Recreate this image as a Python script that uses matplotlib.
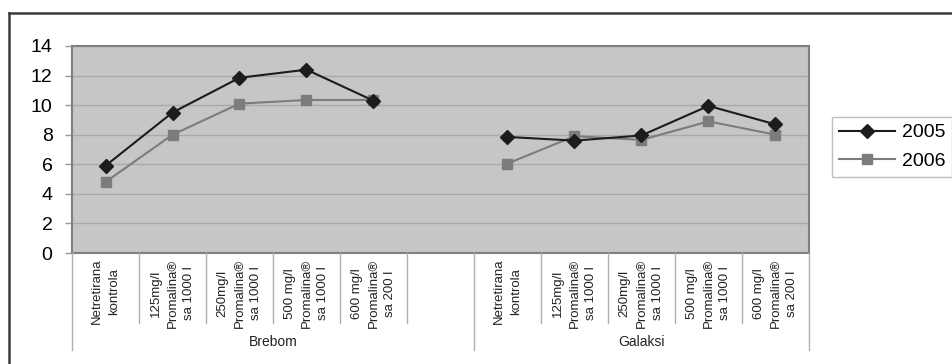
import numpy as np
import matplotlib
matplotlib.use("Agg")
import matplotlib.pyplot as plt
import matplotlib.transforms as mtransforms
from matplotlib.lines import Line2D

plt.rcParams['font.family'] = ['Liberation Sans', 'DejaVu Sans']

# data
groups = ['Brebom', 'Galaksi']
categories = ['Netretirana\nkontrola',
              '125mg/l\nPromalina®\nsa 1000 l',
              '250mg/l\nPromalina®\nsa 1000 l',
              '500 mg/l\nPromalina®\nsa 1000 l',
              '600 mg/l\nPromalina®\nsa 200 l']
brebom_2005 = [5.9, 9.5, 11.85, 12.4, 10.3]
brebom_2006 = [4.8, 8.0, 10.1, 10.35, 10.35]
galaksi_2005 = [7.85, 7.6, 7.95, 9.95, 8.7]
galaksi_2006 = [6.05, 7.9, 7.65, 8.9, 8.0]

W, H = 953, 364
fig = plt.figure(figsize=(W/100, H/100), dpi=100)
ax = fig.add_axes([72/W, 1-253/H, (809-72)/W, (253-46)/H])
ax.set_facecolor('#c6c6c8')

x_b = np.arange(5)
x_g = np.arange(5) + 6

c05 = '#1c1c1c'
c06 = '#7c7c7c'
ax.plot(x_b, brebom_2005, color=c05, lw=1.5, marker='D', ms=7, zorder=4)
ax.plot(x_g, galaksi_2005, color=c05, lw=1.5, marker='D', ms=7, zorder=4)
ax.plot(x_b, brebom_2006, color=c06, lw=1.5, marker='s', ms=7.5, zorder=3)
ax.plot(x_g, galaksi_2006, color=c06, lw=1.5, marker='s', ms=7.5, zorder=3)

ax.set_xlim(-0.5, 10.5)
ax.set_ylim(0, 14)
ax.set_yticks(range(0, 15, 2))
ax.yaxis.grid(True, color='#a9a9a9', lw=1)
ax.set_axisbelow(True)
ax.tick_params(axis='y', labelsize=14, length=5, width=1, color='#999999', pad=9)
ax.set_xticks([])
for s in ax.spines.values():
    s.set_color('#808080')
    s.set_linewidth(1.5)

# category labels and separators under the axis
tr = mtransforms.blended_transform_factory(ax.transData, fig.transFigure)
y_axis = 1 - 253/H
y_tick = 1 - 323/H
y_group = 1 - 350/H
for xs in (x_b, x_g):
    for xi, lab in zip(xs, categories):
        ax.text(xi, 1 - 259/H, lab, transform=tr, rotation=90, ha='center', va='top',
                multialignment='center', fontsize=9.5, linespacing=1.55, color='#222222')

for b in np.arange(0.5, 10, 1):
    if b in (5.5,):
        continue
    fig.add_artist(Line2D([b, b], [y_axis, y_tick], transform=tr, color='#b0b0b0', lw=1))
for b in (-0.5, 5.5, 10.5):
    fig.add_artist(Line2D([b, b], [y_axis, y_group], transform=tr, color='#b0b0b0', lw=1))

ax.text(2.5, 1 - 342/H, groups[0], transform=tr, ha='center', va='center', fontsize=10, color='#222222')
ax.text(8, 1 - 342/H, groups[1], transform=tr, ha='center', va='center', fontsize=10, color='#222222')

# legend
handles = [Line2D([], [], color=c05, lw=1.5, marker='D', ms=7),
           Line2D([], [], color=c06, lw=1.5, marker='s', ms=7.5)]
leg = fig.legend(handles, ['2005', '2006'], loc='upper left',
                 bbox_to_anchor=(832/W, 1 - 117/H), fontsize=14, frameon=True,
                 fancybox=False, handlelength=2.9, handletextpad=0.35,
                 labelspacing=0.55, borderpad=0.35, borderaxespad=0)
leg.get_frame().set_edgecolor('#b0b0b0')
leg.get_frame().set_linewidth(1)

# outer frame
fig.add_artist(Line2D([9/W, 9/W], [0, 1 - 13/H], color='#3a3a3a', lw=1.8))
fig.add_artist(Line2D([9/W, 1], [1 - 13/H, 1 - 13/H], color='#3a3a3a', lw=1.8))

fig.savefig('out.png', dpi=100)
